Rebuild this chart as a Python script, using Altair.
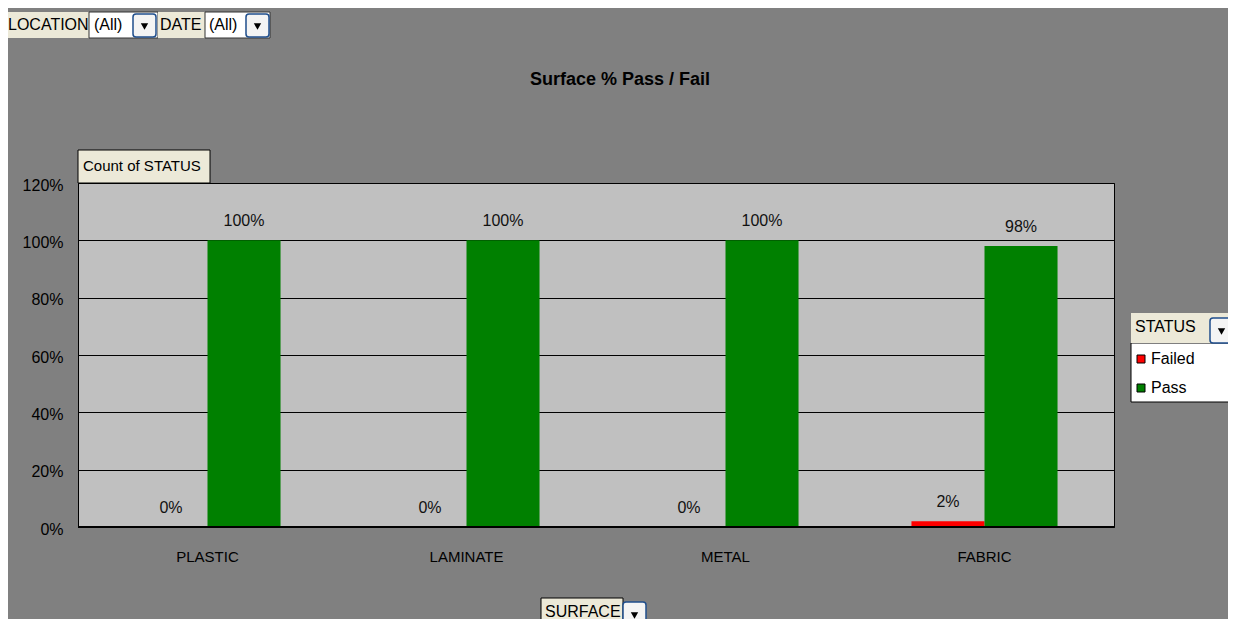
import altair as alt
import pandas as pd

# ---- data ----
surfaces = ["PLASTIC", "LAMINATE", "METAL", "FABRIC"]
statuses = ["Failed", "Pass"]
failed = [0.00, 0.00, 0.00, 0.02]
passed = [1.00, 1.00, 1.00, 0.98]
y_ticks = [0, 0.2, 0.4, 0.6, 0.8, 1.0, 1.2]

rows = []
for s, f, p in zip(surfaces, failed, passed):
    rows.append({"surface": s, "status": "Failed", "value": f})
    rows.append({"surface": s, "status": "Pass", "value": p})
df = pd.DataFrame(rows)

FONT = "Liberation Sans"
OX, OY = 78, 183  # page position of plot origin
W, H = 1036, 344

one = pd.DataFrame({"d": [0]})


def box(x1, y1, x2, y2, fill, stroke=None, sw=1, r=0):
    kw = dict(fill=fill, cornerRadius=r)
    if stroke:
        kw.update(stroke=stroke, strokeWidth=sw)
    return alt.Chart(one).mark_rect(**kw).encode(
        x=alt.value(x1 - OX), x2=alt.value(x2 - OX),
        y=alt.value(y1 - OY), y2=alt.value(y2 - OY))


def label(x, y, t, size=14, align="left", weight="normal"):
    return alt.Chart(one).mark_text(
        text=t, align=align, baseline="middle", fontSize=size,
        font=FONT, fontWeight=weight, color="black").encode(
        x=alt.value(x - OX), y=alt.value(y - OY))


def button(x1, y1, x2, y2):
    cx, cy = (x1 + x2) / 2, (y1 + y2) / 2 + 1
    return [
        box(x1, y1, x2, y2, "#F4F4F4", "#1F4E8C", 1.5, 3),
        alt.Chart(one).mark_point(shape="triangle-down", filled=True,
                                  color="black", size=55, opacity=1).encode(
            x=alt.value(cx - OX), y=alt.value(cy - OY)),
    ]


x_enc = alt.X("surface:N", sort=surfaces, title=None,
              scale=alt.Scale(paddingInner=0.436, paddingOuter=0.218),
              axis=alt.Axis(labelFontSize=15, labelFont=FONT, labelColor="black",
                            labelPadding=22, ticks=False, domain=False,
                            labelAngle=0, grid=False))
xo_enc = alt.XOffset("status:N", sort=statuses, scale=alt.Scale(paddingInner=0))
y_enc = alt.Y("value:Q", title=None,
              scale=alt.Scale(domain=[0, 1.2], nice=False),
              axis=alt.Axis(values=y_ticks, format=".0%", labelFontSize=16,
                            labelFont=FONT, labelColor="black", labelPadding=15,
                            labelOffset=2, ticks=False, domain=False,
                            grid=True, gridColor="black", gridOpacity=1,
                            gridWidth=1))

bars = alt.Chart(df).mark_bar().encode(
    x=x_enc, xOffset=xo_enc, y=y_enc,
    color=alt.Color("status:N", sort=statuses,
                    scale=alt.Scale(domain=statuses, range=["#FF0000", "#008000"]),
                    legend=alt.Legend(title=None, orient="none",
                                      legendX=1133 - OX, legendY=351 - OY,
                                      padding=0, symbolType="square",
                                      symbolSize=64, symbolStrokeColor="black",
                                      symbolStrokeWidth=1, labelFontSize=16,
                                      labelFont=FONT, labelColor="black",
                                      labelOffset=2, rowPadding=13)))

texts = alt.Chart(df).mark_text(dy=-19, fontSize=16, font=FONT, color="#111111",
                                baseline="middle").encode(
    x=x_enc, xOffset=xo_enc, y=y_enc,
    text=alt.Text("value:Q", format=".0%"))

base_rule = alt.Chart(one).mark_rule(color="black", strokeWidth=2).encode(
    y=alt.datum(0), x=alt.value(0), x2=alt.value(W))

deco = [
    # title
    label(620, 80, "Surface % Pass / Fail", size=18, align="center", weight="bold"),
    # count of status tab
    box(78, 150, 210, 183, "#ECE9D8", "black", 1),
    label(83, 166, "Count of STATUS", size=15),
    # page fields
    box(4, 12, 89, 38, "#ECE9D8"),
    label(8, 25, "LOCATION", size=16),
    box(89, 12, 158, 38, "white", "#333333", 1),
    label(94, 25, "(All)", size=16),
    *button(133, 14, 156, 37),
    box(158, 12, 205, 38, "#ECE9D8"),
    label(160, 25, "DATE", size=16),
    box(205, 12, 270, 38, "white", "#333333", 1),
    label(209, 25, "(All)", size=16),
    *button(246, 14, 269, 37),
    # category field
    box(541, 598, 623, 630, "#ECE9D8", "black", 1),
    label(545, 612, "SURFACE", size=16),
    *button(623, 602, 646, 627),
    # legend
    box(1131, 343, 1232, 402, "white", "black", 1),
    box(1131, 313, 1232, 343, "#ECE9D8"),
    label(1135, 327, "STATUS", size=16),
    *button(1210, 318, 1233, 343),
]

chart = alt.layer(bars, base_rule, texts, *deco).properties(
    width=W, height=H,
    padding={"left": 70, "top": 175, "right": 114, "bottom": 92},
    autosize=alt.AutoSizeParams(type="none"),
    background="#808080",
).configure_view(fill="#C0C0C0", stroke="black", strokeWidth=1)

chart.save("out.html", embed_options={"renderer": "svg", "actions": False})
